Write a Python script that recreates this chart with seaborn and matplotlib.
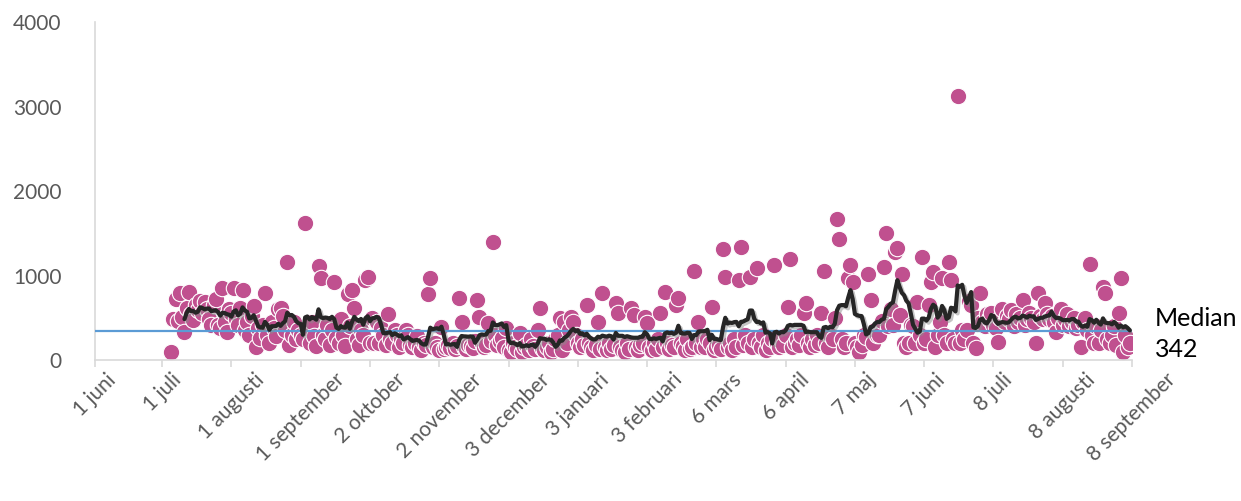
import matplotlib
matplotlib.use("Agg")
import matplotlib.pyplot as plt
import matplotlib.patheffects as pe
import pandas as pd
import seaborn as sns

# daily values, 5 jul 2020 - 7 sep 2021 (one list per month)
jul20 = [100, 480, 720, 460, 790, 510, 330, 620, 800, 540, 470, 650, 590, 700,
         560, 690, 600, 480, 420, 650, 720, 420, 380, 850, 450, 330, 600]
aug20 = [560, 850, 480, 420, 620, 830, 350, 450, 300, 520, 640, 150, 380, 260,
         420, 790, 300, 200, 450, 380, 280, 600, 620, 520, 350, 1160, 180, 300,
         450, 250, 360]
sep20 = [300, 250, 1620, 380, 200, 450, 280, 160, 1110, 970, 300, 250, 420, 180,
         350, 920, 260, 200, 480, 300, 170, 780, 400, 830, 615, 250, 180, 350,
         300, 950]
oct20 = [980, 200, 500, 200, 450, 200, 380, 300, 180, 550, 250, 200, 350, 300,
         150, 250, 200, 350, 300, 180, 150, 200, 280, 150, 120, 200, 180, 780,
         970, 150, 200]
nov20 = [150, 120, 390, 130, 150, 180, 140, 200, 130, 160, 730, 450, 150, 130,
         180, 160, 140, 220, 710, 510, 200, 150, 180, 440, 230, 1400, 300, 180,
         220, 260]
dec20 = [150, 380, 120, 100, 200, 150, 130, 320, 100, 150, 180, 120, 250, 160,
         130, 355, 615, 140, 120, 150, 200, 100, 130, 250, 300, 500, 120, 450,
         200, 350, 510]
jan21 = [450, 300, 200, 150, 250, 180, 650, 200, 150, 120, 180, 450, 130, 790,
         150, 120, 200, 130, 180, 670, 555, 150, 120, 100, 200, 130, 615, 530,
         150, 120, 180]
feb21 = [200, 510, 440, 150, 120, 200, 130, 250, 555, 150, 800, 200, 130, 180,
         150, 650, 730, 200, 160, 120, 250, 130, 150, 1055, 200, 450, 150, 250]
mar21 = [150, 250, 200, 630, 120, 150, 180, 130, 1310, 980, 150, 200, 120, 250,
         150, 950, 1340, 180, 300, 200, 980, 150, 250, 1090, 200, 150, 300, 120,
         200, 150, 250]
apr21 = [1120, 200, 150, 250, 180, 300, 630, 1200, 150, 200, 250, 180, 300, 555,
         670, 200, 150, 250, 180, 300, 200, 555, 1055, 200, 150, 300, 250, 500,
         1670, 1430]
maj21 = [250, 150, 200, 970, 1120, 920, 200, 150, 100, 180, 300, 270, 1020, 710,
         200, 350, 300, 300, 460, 1100, 1500, 400, 600, 410, 1280, 1325, 530,
         1020, 200, 150, 200]
jun21 = [420, 400, 200, 690, 300, 1220, 200, 250, 650, 920, 1040, 150, 300, 450,
         970, 300, 200, 1160, 950, 250, 200, 3120, 200, 350, 250, 360, 700, 650,
         200, 140]
jul21 = [500, 790, 450, 400, 550, 480, 555, 420, 380, 210, 500, 600, 450, 520,
         480, 590, 400, 550, 450, 500, 710, 420, 480, 560, 500, 450, 200, 790,
         520, 480, 670]
aug21 = [550, 480, 520, 450, 330, 500, 600, 420, 480, 550, 400, 450, 500, 380,
         420, 155, 450, 500, 350, 1135, 300, 200, 400, 200, 350, 865, 790, 250,
         200, 300, 400]
sep21 = [180, 555, 970, 100, 300, 155, 200]

median_value = 342

tick_dates = ["2020-06-01", "2020-07-01", "2020-08-01", "2020-09-01",
              "2020-10-02", "2020-11-02", "2020-12-03", "2021-01-03",
              "2021-02-03", "2021-03-06", "2021-04-06", "2021-05-07",
              "2021-06-07", "2021-07-08", "2021-08-08", "2021-09-08"]
tick_labels = ["1 juni", "1 juli", "1 augusti", "1 september", "2 oktober",
               "2 november", "3 december", "3 januari", "3 februari", "6 mars",
               "6 april", "7 maj", "7 juni", "8 juli", "8 augusti", "8 september"]

values = (jul20 + aug20 + sep20 + oct20 + nov20 + dec20 + jan21 + feb21 +
          mar21 + apr21 + maj21 + jun21 + jul21 + aug21 + sep21)
df = pd.DataFrame({"datum": pd.date_range("2020-07-05", periods=len(values), freq="D"),
                   "antal": values})
df["snitt"] = df["antal"].rolling(7).mean()

sns.set_style("white")
plt.rcParams["font.family"] = ["Lato", "DejaVu Sans"]

fig = plt.figure(figsize=(12.41, 5.01), dpi=100)
ax = fig.add_axes([0.0766, 0.2814, 0.8356, 0.6747])

sns.scatterplot(data=df, x="datum", y="antal", s=140, color="#c0508f",
                edgecolor="white", linewidth=0.8, ax=ax, zorder=2)
ax.axhline(median_value, color="#5b9bd5", lw=1.6, zorder=3)
sns.lineplot(data=df, x="datum", y="snitt", color="#262626", lw=3, ax=ax,
             zorder=4,
             path_effects=[pe.SimpleLineShadow(offset=(1.5, -1.5), shadow_color="0.55", alpha=0.5),
                           pe.Normal()])

ax.set_xlim(pd.Timestamp("2020-06-01"), pd.Timestamp("2021-09-08"))
ax.set_ylim(0, 4000)
ax.set_yticks([0, 1000, 2000, 3000, 4000])
ax.set_xticks(pd.to_datetime(tick_dates))
ax.set_xticklabels(tick_labels, rotation=45, ha="center", va="top")
ax.set_xlabel("")
ax.set_ylabel("")

for side in ["top", "right"]:
    ax.spines[side].set_visible(False)
for side in ["left", "bottom"]:
    ax.spines[side].set_color("#d9d9d9")
    ax.spines[side].set_linewidth(1.2)

ax.tick_params(axis="x", length=5, width=1.2, color="#d9d9d9", pad=2,
               labelsize=15, labelcolor="#595959", bottom=True)
ax.tick_params(axis="y", length=0, pad=24, labelsize=15, labelcolor="#595959")

fig.text(1155 / 1241, 1 - 326 / 501, "Median", fontsize=18, color="black", va="baseline")
fig.text(1155 / 1241, 1 - 357 / 501, str(median_value), fontsize=18, color="black", va="baseline")

fig.savefig("out.png", dpi=100)
